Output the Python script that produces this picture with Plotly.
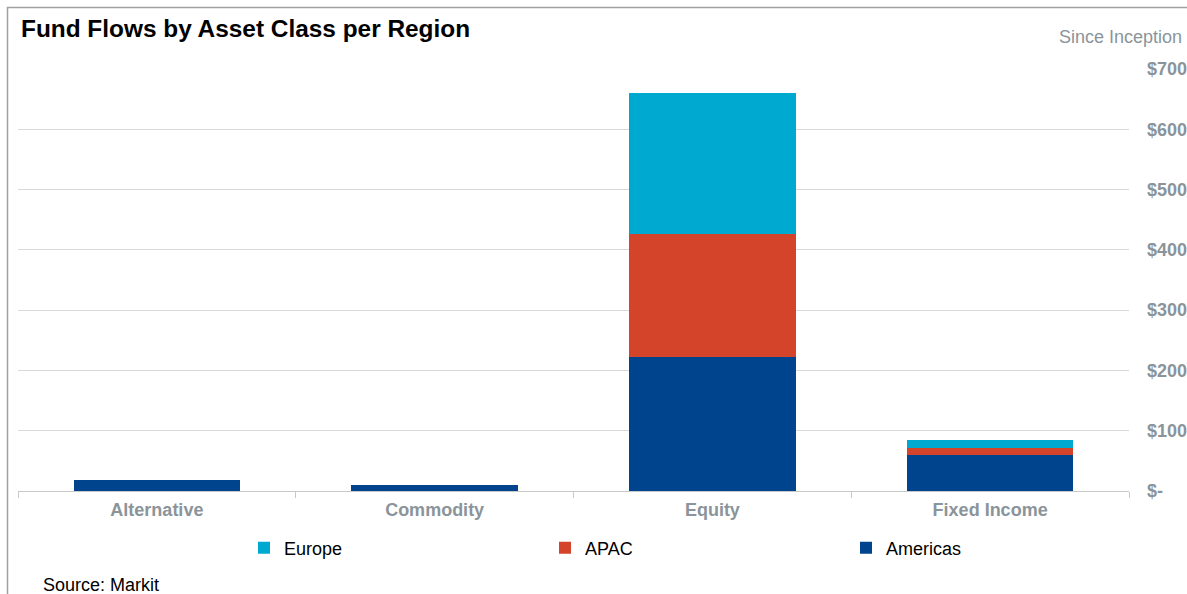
import plotly.graph_objects as go

categories = ["Alternative", "Commodity", "Equity", "Fixed Income"]
americas = [18, 10, 223, 59]
apac = [0, 0, 203, 13]
europe = [0, 0, 235, 13]
tick_vals = [0, 100, 200, 300, 400, 500, 600, 700]
tick_text = ["$-", "$100", "$200", "$300", "$400", "$500", "$600", "$700"]

W, H = 1187, 594
L, R, T, B = 18, 1129, 69, 491


def px(x):
    return (x - L) / (R - L)


def py(y):
    return (B - y) / (B - T)


FONT = "Arial, Liberation Sans, sans-serif"
GRAY = "#8a949a"

fig = go.Figure()
fig.add_trace(go.Bar(name="Americas", x=categories, y=americas, marker_color="#00448e", marker_line_width=0))
fig.add_trace(go.Bar(name="APAC", x=categories, y=apac, marker_color="#d3442a", marker_line_width=0))
fig.add_trace(go.Bar(name="Europe", x=categories, y=europe, marker_color="#00a9d0", marker_line_width=0))

fig.update_layout(
    width=W, height=H,
    barmode="stack", bargap=0.4,
    plot_bgcolor="white", paper_bgcolor="white",
    margin=dict(l=L, r=W - R, t=T, b=H - B, autoexpand=False),
    font=dict(family=FONT),
    title=dict(text="<b>Fund Flows by Asset Class per Region</b>", x=21 / W, xref="container",
               xanchor="left", y=1 - 28 / H, yref="container", yanchor="middle",
               font=dict(size=24.4, color="black", family=FONT)),
    legend=dict(orientation="h", traceorder="reversed", x=px(244), xanchor="left",
                y=py(548), yanchor="middle", entrywidth=256, entrywidthmode="pixels",
                font=dict(size=18, color="black", family=FONT), bgcolor="rgba(0,0,0,0)"),
    showlegend=True,
)
fig.update_xaxes(showline=True, linecolor="#c8c8c8", linewidth=1, ticks="outside", tickson="boundaries",
                 ticklen=6, tickcolor="#c8c8c8", showgrid=False,
                 tickfont=dict(size=18, color=GRAY, family=FONT),
                 automargin=False, ticklabelstandoff=2,
                 tickvals=categories, ticktext=["<b>%s</b>" % c for c in categories])
fig.update_yaxes(side="right", range=[0, 700], tickvals=tick_vals, ticktext=["<b>%s</b>" % t for t in tick_text],
                 showgrid=True, gridcolor="#d9d9d9", gridwidth=1, zeroline=False, showline=False,
                 tickfont=dict(size=18, color=GRAY, family=FONT), automargin=False, ticklabelstandoff=17)

fig.add_annotation(text="Since Inception", xref="paper", yref="paper", x=px(1184), xanchor="right",
                   y=py(37), yanchor="middle", showarrow=False,
                   font=dict(size=18, color=GRAY, family=FONT))
fig.add_annotation(text="Source: Markit", xref="paper", yref="paper", x=px(41), xanchor="left",
                   y=py(585), yanchor="middle", showarrow=False,
                   font=dict(size=18, color="black", family=FONT))
fig.add_shape(type="rect", xref="paper", yref="paper",
              x0=px(7.5), x1=px(1300), y0=py(700), y1=py(7.5),
              line=dict(color="#a0a0a0", width=1.5), fillcolor="rgba(0,0,0,0)", layer="below")

fig.write_html("out.html", config={"displayModeBar": False},
               post_script="document.body.style.margin='0';document.body.style.overflow='hidden';")
